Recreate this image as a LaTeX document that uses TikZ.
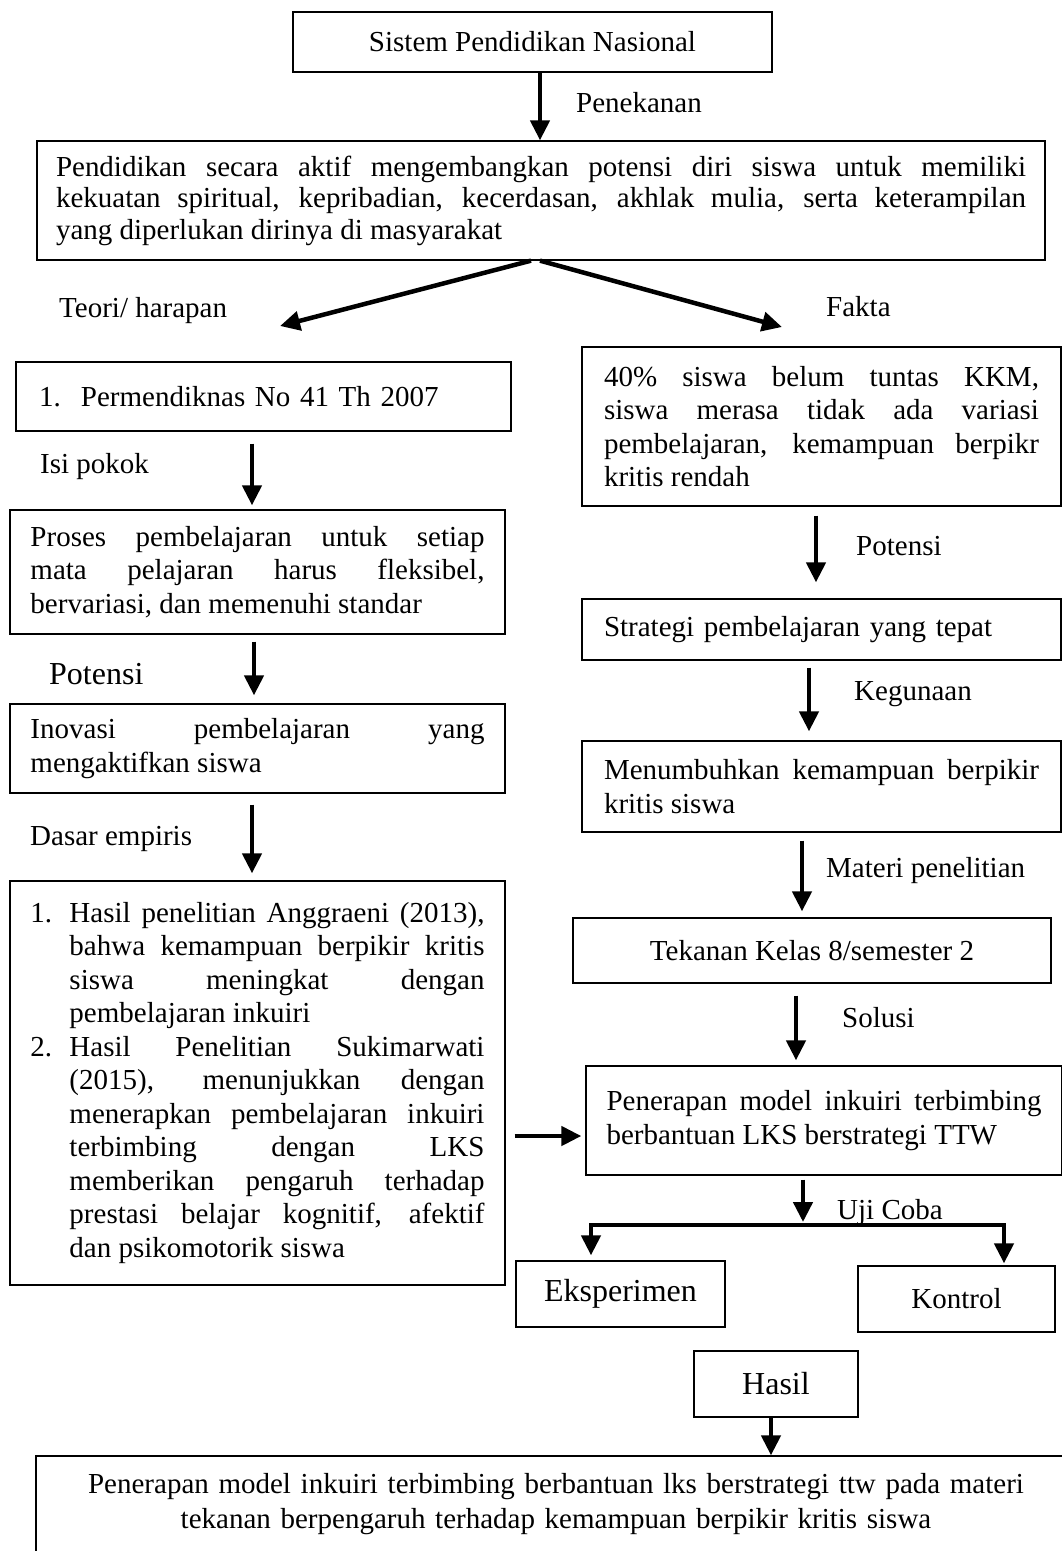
\documentclass[tikz,border=0pt]{standalone}
\usepackage{fontspec}
\setmainfont{Liberation Serif}
\usetikzlibrary{arrows.meta}
\tolerance=10000
\hbadness=10000
\hyphenpenalty=10000
\exhyphenpenalty=10000

\tikzset{
 box/.style={draw, line width=1.3pt, inner sep=0pt, font=\fontsize{29}{33.5}\selectfont},
 arr/.style={line width=4.5pt, -{Triangle[width=19pt,length=20pt]}},
 lbl/.style={inner sep=0pt, anchor=base west, font=\fontsize{29}{33.5}\selectfont},
}

\begin{document}
\begin{tikzpicture}[x=1pt,y=-1pt]
\useasboundingbox (0,0) rectangle (1062,1551);
\clip (0,0) rectangle (1062,1551);
\coordinate (harapan) at (280,326);
\coordinate (fakta) at (782,327);
\coordinate (bar) at (803,1225);

\node[box, minimum width=479pt, minimum height=60pt] (sisdiknas) at (532.5,42) {Sistem Pendidikan Nasional};
\node[box, minimum width=1008pt, minimum height=119pt, text width=970pt, align=justify, font=\fontsize{29}{31.5}\selectfont] (tujuan) at (541,200.5)
 {Pendidikan secara aktif mengembangkan potensi diri siswa untuk memiliki\linebreak kekuatan spiritual, kepribadian, kecerdasan, akhlak mulia, serta keterampilan\linebreak yang diperlukan dirinya di masyarakat};

% kiri: teori
\node[box, minimum width=495pt, minimum height=69pt, text width=449pt, align=left] (permen) at (263.5,396.5)
 {\makebox[42pt][l]{1.}Permendiknas No 41 Th 2007};
\node[box, minimum width=495pt, minimum height=124pt, text width=454pt, align=justify] (proses) at (257.5,572)
 {Proses pembelajaran untuk setiap\linebreak mata pelajaran harus fleksibel,\linebreak bervariasi, dan memenuhi standar};
\node[box, minimum width=495pt, minimum height=89pt, text width=454pt, align=justify] (inovasi) at (257.5,748.5)
 {Inovasi pembelajaran yang\linebreak mengaktifkan siswa};
\node[box, minimum width=495pt, minimum height=404pt, text width=454pt, align=justify] (empiris) at (257.5,1083)
 {\noindent\hangindent=39pt\hangafter=1\makebox[39pt][l]{1.}Hasil penelitian Anggraeni (2013),\linebreak bahwa kemampuan berpikir kritis\linebreak siswa meningkat dengan\linebreak pembelajaran inkuiri\par
  \noindent\hangindent=39pt\hangafter=1\makebox[39pt][l]{2.}Hasil Penelitian Sukimarwati\linebreak (2015), menunjukkan dengan\linebreak menerapkan pembelajaran inkuiri\linebreak terbimbing dengan LKS\linebreak memberikan pengaruh terhadap\linebreak prestasi belajar kognitif, afektif\linebreak dan psikomotorik siswa\par};

% kanan: fakta
\node[box, minimum width=479pt, minimum height=159pt, text width=435pt, align=justify] (kondisi) at (821.5,426.5)
 {40\% siswa belum tuntas KKM,\linebreak siswa merasa tidak ada variasi\linebreak pembelajaran, kemampuan berpikr\linebreak kritis rendah};
\node[box, minimum width=479pt, minimum height=61pt, text width=435pt, align=left] (strategi) at (821.5,629.5)
 {Strategi pembelajaran yang tepat};
\node[box, minimum width=479pt, minimum height=91pt, text width=435pt, align=justify] (berpikir) at (821.5,786.5)
 {Menumbuhkan kemampuan berpikir\linebreak kritis siswa};
\node[box, minimum width=478pt, minimum height=65pt] (materi) at (812,950.5) {Tekanan Kelas 8/semester 2};
\node[box, minimum width=476pt, minimum height=109pt, text width=435pt, align=justify] (penerapan) at (824,1120.5)
 {Penerapan model inkuiri terbimbing\linebreak berbantuan LKS berstrategi TTW};
\node[box, minimum width=209pt, minimum height=66pt, font=\fontsize{32}{36}\selectfont] (eksperimen) at (620.5,1294) {Eksperimen};
\node[box, minimum width=197pt, minimum height=66pt] (kontrol) at (956.5,1299) {Kontrol};
\node[box, minimum width=164pt, minimum height=66pt, font=\fontsize{32}{36}\selectfont] (hasil) at (776,1384) {Hasil};
\node[box, minimum width=1040pt, minimum height=124pt, text width=1000pt, align=center, font=\fontsize{29}{35}\selectfont] (simpulan) at (556,1518)
 {Penerapan model inkuiri terbimbing berbantuan lks berstrategi ttw pada materi\\ tekanan berpengaruh terhadap kemampuan berpikir kritis siswa\\ \mbox{}};

\node[lbl] (lPenekanan) at (576,112) {Penekanan};
\node[lbl] (lTeori) at (59,317) {Teori/ harapan};
\node[lbl] (lFakta) at (826,316) {Fakta};
\node[lbl] (lIsi) at (40,473) {Isi pokok};
\node[lbl, font=\fontsize{32}{36}\selectfont] (lPotensiKiri) at (49,684) {Potensi};
\node[lbl] (lDasar) at (30,845) {Dasar empiris};
\node[lbl] (lPotensiKanan) at (856,555) {Potensi};
\node[lbl] (lKegunaan) at (854,700) {Kegunaan};
\node[lbl] (lMateri) at (826,877) {Materi penelitian};
\node[lbl] (lSolusi) at (842,1027) {Solusi};
\node[lbl] (lUji) at (837,1219) {Uji Coba};

\draw[arr] (sisdiknas.south -| 540,0) -- (tujuan.north -| 540,0);
\draw[arr] (tujuan.south -| 531,0) -- (harapan);
\draw[arr] (tujuan.south -| 540,0) -- (fakta);
\draw[arr, shorten <=12pt, shorten >=4pt] (permen.south -| 252,0) -- (proses.north -| 252,0);
\draw[arr, shorten <=7pt, shorten >=8pt] (proses.south -| 254,0) -- (inovasi.north -| 254,0);
\draw[arr, shorten <=11pt, shorten >=7pt] (inovasi.south -| 252,0) -- (empiris.north -| 252,0);
\draw[arr, shorten <=9pt, shorten >=16pt] (kondisi.south -| 816,0) -- (strategi.north -| 816,0);
\draw[arr, shorten <=7pt, shorten >=9pt] (strategi.south -| 809,0) -- (berpikir.north -| 809,0);
\draw[arr, shorten <=8pt, shorten >=6pt] (berpikir.south -| 802,0) -- (materi.north -| 802,0);
\draw[arr, shorten <=12pt, shorten >=5pt] (materi.south -| 796,0) -- (penerapan.north -| 796,0);
\draw[arr, shorten <=9pt, shorten >=4pt] (empiris.east |- 0,1136) -- (penerapan.west |- 0,1136);
\draw[arr, shorten <=4pt, shorten >=3pt] (penerapan.south -| 803,0) -- (bar);
\draw[arr, shorten >=5pt] (bar) -| (eksperimen.north -| 591,0);
\draw[arr, shorten >=2pt] (bar) -| (kontrol.north -| 1004,0);
\draw[arr] (hasil.south -| 771,0) -- (simpulan.north -| 771,0);
\end{tikzpicture}
\end{document}
